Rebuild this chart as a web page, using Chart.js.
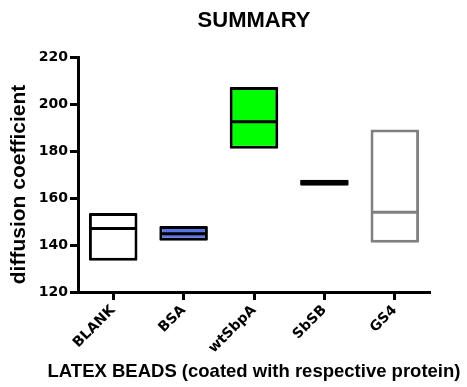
<!DOCTYPE html>
<html>
<head>
<meta charset="utf-8">
<script src="https://cdn.jsdelivr.net/npm/chart.js@4/dist/chart.umd.min.js"></script>
<style>
  html, body { margin: 0; padding: 0; background: #ffffff; }
  #wrap { width: 467px; height: 387px; position: relative; }
</style>
</head>
<body>
<div id="wrap"><canvas id="chart"></canvas></div>
<script>
// Bead coatings (x categories)
const categories = ['BLANK', 'BSA', 'wtSbpA', 'SbSB', 'GS4'];
// Diffusion coefficient per coating: minimum, median, maximum
const minValues    = [133.3, 141.8, 181.0, 165.2, 141.0];
const medianValues = [147.0, 144.8, 192.5, 166.5, 153.9];
const maxValues    = [153.6, 148.1, 207.2, 167.8, 189.1];
// Y axis tick values
const yTicks = [120, 140, 160, 180, 200, 220];

const fillColors   = ['#ffffff', '#5874E2', '#00ff00', '#000000', '#ffffff'];
const strokeColors = ['#000000', '#000000', '#000000', '#000000', '#808080'];

const FONT = "'Liberation Sans', Arial, Helvetica, sans-serif";
const WIDE = "'DejaVu Sans', Verdana, sans-serif";

// Draws the median line across each floating box
const medianLines = {
  id: 'medianLines',
  afterDatasetsDraw(chart) {
    const meta = chart.getDatasetMeta(0);
    const y = chart.scales.y;
    const ctx = chart.ctx;
    ctx.save();
    meta.data.forEach((bar, i) => {
      const half = bar.width / 2;
      const py = y.getPixelForValue(medianValues[i]);
      ctx.beginPath();
      ctx.strokeStyle = strokeColors[i];
      ctx.lineWidth = 3;
      ctx.moveTo(bar.x - half + 1, py);
      ctx.lineTo(bar.x + half - 1, py);
      ctx.stroke();
    });
    ctx.restore();
  }
};

// Axis titles; the x title is allowed to run wider than the plot
const axisTitles = {
  id: 'axisTitles',
  afterDraw(chart) {
    const area = chart.chartArea;
    const ctx = chart.ctx;
    ctx.save();
    ctx.fillStyle = '#000000';
    ctx.textAlign = 'center';
    ctx.textBaseline = 'middle';

    ctx.font = 'bold 18.5px ' + FONT;
    ctx.fillText('LATEX BEADS (coated with respective protein)',
                 (area.left + area.right) / 2, chart.height - 15);

    ctx.translate(19, (area.top + area.bottom) / 2 + 10);
    ctx.rotate(-Math.PI / 2);
    ctx.font = 'bold 21px ' + FONT;
    ctx.fillText('diffusion coefficient', 0, 0);
    ctx.restore();
  }
};

new Chart(document.getElementById('chart'), {
  type: 'bar',
  data: {
    labels: categories,
    datasets: [{
      data: categories.map((c, i) => [minValues[i], maxValues[i]]),
      backgroundColor: fillColors,
      borderColor: strokeColors,
      borderWidth: 3,
      borderSkipped: false,
      borderRadius: 1,
      barPercentage: 0.69,
      categoryPercentage: 1.0
    }]
  },
  options: {
    responsive: true,
    maintainAspectRatio: false,
    animation: false,
    layout: { padding: { left: 0, right: 37, top: 0, bottom: 0 } },
    plugins: {
      legend: { display: false },
      tooltip: { enabled: false },
      title: {
        display: true,
        text: 'SUMMARY',
        fullSize: false,
        color: '#000000',
        font: { family: FONT, size: 22, weight: 'bold' },
        padding: { top: 8, bottom: 22.6 }
      }
    },
    scales: {
      x: {
        offset: true,
        afterFit(scale) { scale.height = 95; },
        border: { display: true, color: '#000000', width: 3 },
        grid: {
          display: true,
          offset: false,
          drawOnChartArea: false,
          drawTicks: true,
          tickLength: 8,
          tickWidth: 3,
          tickColor: '#000000'
        },
        ticks: {
          color: '#000000',
          font: { family: WIDE, size: 14, weight: 'bold' },
          minRotation: 45,
          maxRotation: 45,
          padding: 2
        }
      },
      y: {
        min: 120,
        max: 220,
        afterFit(scale) { scale.width = 78; },
        afterBuildTicks(scale) { scale.ticks = yTicks.map(v => ({ value: v })); },
        border: { display: true, color: '#000000', width: 3 },
        grid: {
          display: true,
          drawOnChartArea: false,
          drawTicks: true,
          tickLength: 8,
          tickWidth: 3,
          tickColor: '#000000'
        },
        ticks: {
          color: '#000000',
          font: { family: WIDE, size: 14, weight: 'bold' },
          padding: 2
        }
      }
    }
  },
  plugins: [medianLines, axisTitles]
});
</script>
</body>
</html>
